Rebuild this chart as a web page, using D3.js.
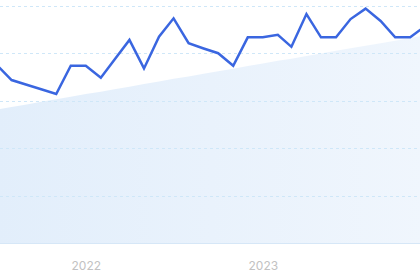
<!DOCTYPE html>
<html>
<head>
<meta charset="utf-8">
<script src="https://cdn.jsdelivr.net/npm/d3@7"></script>
<style>
  html, body { margin: 0; padding: 0; background: #ffffff; }
  svg { display: block; }
</style>
</head>
<body>
<svg id="chart" width="420" height="280"></svg>
<script>
// ---- data (monthly, Jul 2021 – Dec 2023) ----
const months = [
  "2021-07","2021-08","2021-09","2021-10","2021-11","2021-12",
  "2022-01","2022-02","2022-03","2022-04","2022-05","2022-06",
  "2022-07","2022-08","2022-09","2022-10","2022-11","2022-12",
  "2023-01","2023-02","2023-03","2023-04","2023-05","2023-06",
  "2023-07","2023-08","2023-09","2023-10","2023-11","2023-12"
];
const lineValues = [
  75.2, 68.8, 66.8, 64.9, 62.9, 74.8,
  74.8, 69.8, 77.4, 85.7, 73.7, 87.1,
  94.8, 84.3, 82.1, 80.1, 74.8, 86.8,
  86.8, 87.9, 82.8, 96.6, 86.8, 86.8,
  94.5, 98.9, 93.7, 86.8, 86.8, 91.4
];
const trendValues = [
  56.4, 57.4, 58.5, 59.6, 60.7, 61.8,
  62.9, 63.9, 64.9, 66.0, 67.1, 68.2,
  69.3, 70.3, 71.4, 72.5, 73.6, 74.7,
  75.8, 76.9, 77.8, 78.9, 80.0, 81.1,
  82.2, 83.3, 84.3, 85.4, 86.5, 87.6
];
const yTicks = [0, 20, 40, 60, 80, 100];
const yearTicks = ["2022", "2023"];

// ---- layout ----
const W = 420, H = 280;
const svg = d3.select("#chart");
const parse = d3.timeParse("%Y-%m");
const data = months.map((m, i) => ({ date: parse(m), v: lineValues[i], t: trendValues[i] }));

const x = d3.scaleTime()
  .domain([new Date(2022, 0, 1), new Date(2023, 0, 1)])
  .range([85.8, 262.8]);
const y = d3.scaleLinear().domain([0, 100]).range([243.3, 6]);

const defs = svg.append("defs");
defs.append("clipPath").attr("id", "clip")
  .append("rect").attr("x", 0).attr("y", 0).attr("width", W).attr("height", H);
const grad = defs.append("linearGradient").attr("id", "areaGrad")
  .attr("x1", "0%").attr("y1", "0%").attr("x2", "100%").attr("y2", "0%");
grad.append("stop").attr("offset", "0%").attr("stop-color", "#e2eefb");
grad.append("stop").attr("offset", "100%").attr("stop-color", "#f0f6fd");

const g = svg.append("g").attr("clip-path", "url(#clip)");

// area (trend)
const area = d3.area()
  .x(d => x(d.date))
  .y0(y(0))
  .y1(d => y(d.t));
g.append("path").datum(data)
  .attr("d", area)
  .attr("fill", "url(#areaGrad)");

// grid lines
g.selectAll("line.grid").data(yTicks.filter(t => t > 0)).enter()
  .append("line").attr("class", "grid")
  .attr("x1", 0).attr("x2", W)
  .attr("y1", d => Math.round(y(d)) + 0.5).attr("y2", d => Math.round(y(d)) + 0.5)
  .attr("stroke", "#cfe7f8")
  .attr("stroke-width", 1)
  .attr("stroke-dasharray", "3,3");

// baseline axis
const xAxis = d3.axisBottom(x)
  .tickValues(yearTicks.map(s => new Date(+s, 0, 1)))
  .tickFormat(d3.timeFormat("%Y"))
  .tickSize(0)
  .tickPadding(18);
const ax = svg.append("g")
  .attr("transform", `translate(0,${Math.round(y(0)) + 0.5})`)
  .call(xAxis);
ax.select(".domain").attr("d", `M0,0H${W}`).attr("stroke", "#d6e7f7").attr("stroke-width", 1);
ax.selectAll("text")
  .attr("fill", "#c2c2c2")
  .attr("font-family", "Inter, 'Open Sans', sans-serif")
  .attr("font-size", 12);

// line
const line = d3.line()
  .x(d => x(d.date))
  .y(d => y(d.v));
g.append("path").datum(data)
  .attr("d", line)
  .attr("fill", "none")
  .attr("stroke", "#3a66e0")
  .attr("stroke-width", 2.5)
  .attr("stroke-linejoin", "miter");
</script>
</body>
</html>
